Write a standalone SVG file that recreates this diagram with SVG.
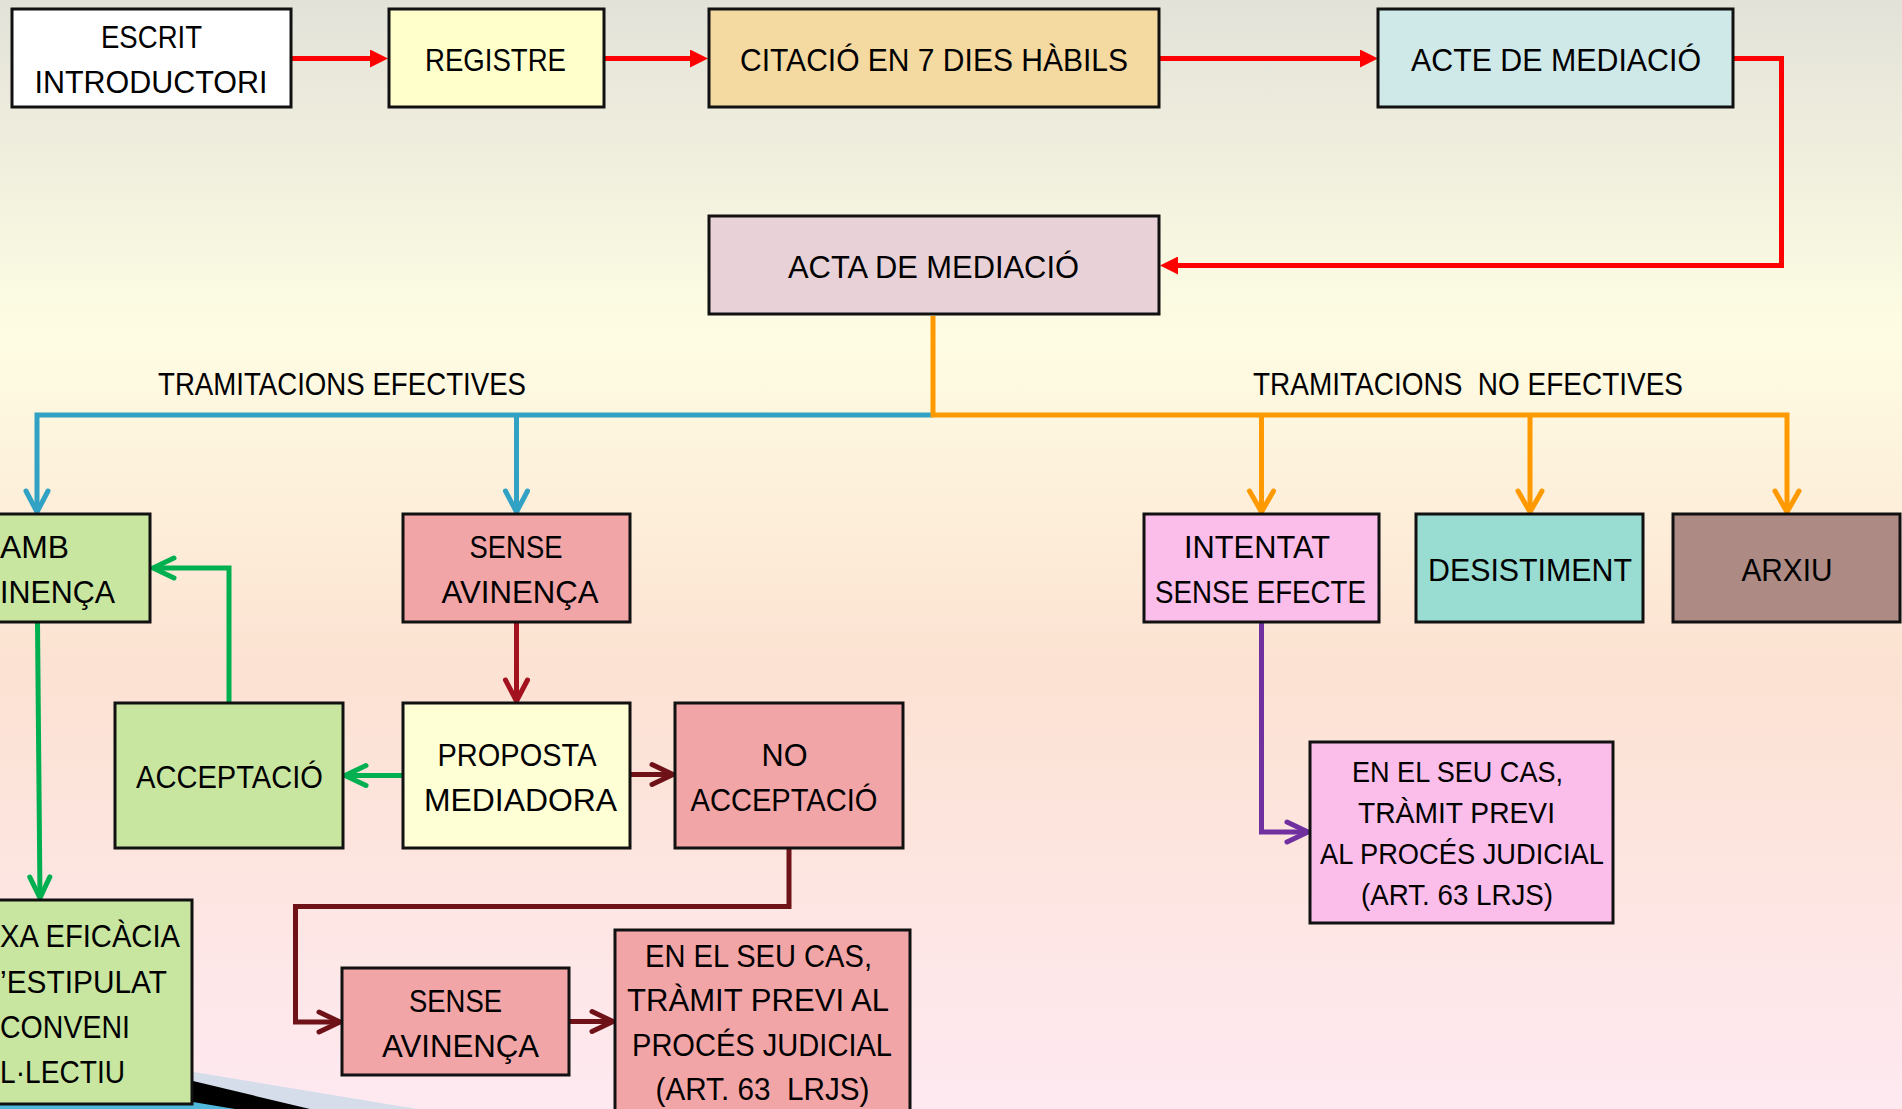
<svg xmlns="http://www.w3.org/2000/svg" width="1902" height="1109" viewBox="0 0 1902 1109">
<style>
text{font-family:"Liberation Sans",Arial,sans-serif;font-size:32px;fill:#000;text-anchor:middle}
.sm{font-size:29px}
.st{text-anchor:start}
.pre{white-space:pre}
.box{stroke:#111;stroke-width:3}
.c{fill:none;stroke-width:5;stroke-linejoin:miter}
</style>
<defs>
<linearGradient id="bg" x1="0" y1="0" x2="0" y2="1">
<stop offset="0" stop-color="#E3E2D9"/>
<stop offset="0.3" stop-color="#FEFDE3"/>
<stop offset="0.6" stop-color="#FCE2D2"/>
<stop offset="1" stop-color="#FEE9F1"/>
</linearGradient>
<marker id="tri" viewBox="0 0 18 18" refX="8" refY="9" markerWidth="18" markerHeight="18" markerUnits="userSpaceOnUse" orient="auto"><path d="M0,0 L18,9 L0,18 z" fill="#FF0000"/></marker>
<marker id="mBlue" viewBox="-4 -4 30 30" refX="21" refY="11" markerWidth="30" markerHeight="30" markerUnits="userSpaceOnUse" orient="auto" overflow="visible"><path d="M0,0 L21,11 L0,22" fill="none" stroke="#31A2C4" stroke-width="5" stroke-linecap="round" stroke-linejoin="round"/></marker>
<marker id="mOrange" viewBox="-4 -4 30 30" refX="21" refY="11" markerWidth="30" markerHeight="30" markerUnits="userSpaceOnUse" orient="auto" overflow="visible"><path d="M0,-1 L21,11 L0,23" fill="none" stroke="#FF9900" stroke-width="5" stroke-linecap="round" stroke-linejoin="round"/></marker>
<marker id="mGreen" viewBox="-4 -4 30 30" refX="21" refY="11" markerWidth="30" markerHeight="30" markerUnits="userSpaceOnUse" orient="auto" overflow="visible"><path d="M0,1 L21,11 L0,21" fill="none" stroke="#00B050" stroke-width="5" stroke-linecap="round" stroke-linejoin="round"/></marker>
<marker id="mDred" viewBox="-4 -4 30 30" refX="21" refY="11" markerWidth="30" markerHeight="30" markerUnits="userSpaceOnUse" orient="auto" overflow="visible"><path d="M0,0 L21,11 L0,22" fill="none" stroke="#A3131F" stroke-width="5" stroke-linecap="round" stroke-linejoin="round"/></marker>
<marker id="mMaroon" viewBox="-4 -4 30 30" refX="21" refY="11" markerWidth="30" markerHeight="30" markerUnits="userSpaceOnUse" orient="auto" overflow="visible"><path d="M0,1 L21,11 L0,21" fill="none" stroke="#6E1218" stroke-width="5" stroke-linecap="round" stroke-linejoin="round"/></marker>
<marker id="mPurple" viewBox="-4 -4 30 30" refX="21" refY="11" markerWidth="30" markerHeight="30" markerUnits="userSpaceOnUse" orient="auto" overflow="visible"><path d="M0,1 L21,11 L0,21" fill="none" stroke="#7030A0" stroke-width="5" stroke-linecap="round" stroke-linejoin="round"/></marker>
</defs>
<rect x="0" y="0" width="1902" height="1109" fill="url(#bg)"/>
<g id="decoration">
<polygon points="0,1040 417,1109 0,1109" fill="#D6DDEA"/>
<polygon points="0,1035 310,1109 0,1109" fill="#000"/>
<polygon points="0,1070 235,1109 0,1109" fill="#4FB8DC"/>
</g>
<g id="labels">
<text class="st" x="158" y="395" textLength="368" lengthAdjust="spacingAndGlyphs">TRAMITACIONS EFECTIVES</text>
<text class="st pre" xml:space="preserve" x="1253" y="395" textLength="430" lengthAdjust="spacingAndGlyphs">TRAMITACIONS  NO EFECTIVES</text>
</g>
<g id="connectors">
<line class="c" stroke="#FF0000" x1="292" y1="58.5" x2="378" y2="58.5" marker-end="url(#tri)"/>
<line class="c" stroke="#FF0000" x1="604" y1="58.5" x2="698" y2="58.5" marker-end="url(#tri)"/>
<line class="c" stroke="#FF0000" x1="1159" y1="58.5" x2="1368" y2="58.5" marker-end="url(#tri)"/>
<path class="c" stroke="#FF0000" d="M1734,58.5 H1781.5 V265.5 H1170" marker-end="url(#tri)"/>
<path class="c" stroke="#31A2C4" d="M933,415 H37 V512" marker-end="url(#mBlue)"/>
<path class="c" stroke="#31A2C4" d="M516.5,415 V512" marker-end="url(#mBlue)"/>
<path class="c" stroke="#FF9900" d="M933,316 V415 H1787 V512" marker-end="url(#mOrange)"/>
<path class="c" stroke="#FF9900" d="M1261.5,415 V512" marker-end="url(#mOrange)"/>
<path class="c" stroke="#FF9900" d="M1530,415 V512" marker-end="url(#mOrange)"/>
<path class="c" stroke="#00B050" d="M37.5,623 L40,898" marker-end="url(#mGreen)"/>
<path class="c" stroke="#00B050" d="M229,702 V568 H153" marker-end="url(#mGreen)"/>
<path class="c" stroke="#00B050" d="M402,775.5 H345" marker-end="url(#mGreen)"/>
<path class="c" stroke="#A3131F" d="M516.5,623 V701" marker-end="url(#mDred)"/>
<path class="c" stroke="#6E1218" d="M630,774.5 H673" marker-end="url(#mMaroon)"/>
<path class="c" stroke="#6E1218" d="M789,849 V906.5 H295.5 V1022 H340" marker-end="url(#mMaroon)"/>
<path class="c" stroke="#6E1218" d="M570,1021.5 H613" marker-end="url(#mMaroon)"/>
<path class="c" stroke="#7030A0" d="M1261.5,623 V832 H1308" marker-end="url(#mPurple)"/>
</g>
<g id="n-escrit"><rect class="box" x="12" y="9" width="279" height="98" fill="#FFFFFF"/>
<text x="151.5" y="48" textLength="101" lengthAdjust="spacingAndGlyphs">ESCRIT</text>
<text x="151" y="93" textLength="233" lengthAdjust="spacingAndGlyphs">INTRODUCTORI</text></g>
<g id="n-registre"><rect class="box" x="389" y="9" width="215" height="98" fill="#FFFFCC"/>
<text x="495.5" y="71" textLength="141" lengthAdjust="spacingAndGlyphs">REGISTRE</text></g>
<g id="n-citacio"><rect class="box" x="709" y="9" width="450" height="98" fill="#F4D9A0"/>
<text x="934" y="71" textLength="388" lengthAdjust="spacingAndGlyphs">CITACIÓ EN 7 DIES HÀBILS</text></g>
<g id="n-acte"><rect class="box" x="1378" y="9" width="355" height="98" fill="#CFE8E8"/>
<text x="1556" y="71" textLength="290" lengthAdjust="spacingAndGlyphs">ACTE DE MEDIACIÓ</text></g>
<g id="n-acta"><rect class="box" x="709" y="216" width="450" height="98" fill="#E8D2D8"/>
<text x="933.5" y="278" textLength="291" lengthAdjust="spacingAndGlyphs">ACTA DE MEDIACIÓ</text></g>
<g id="n-amb"><rect class="box" x="-80" y="514" width="230" height="108" fill="#C8E6A0"/>
<text class="st" x="0" y="558" textLength="69" lengthAdjust="spacingAndGlyphs">AMB</text>
<text class="st" x="0" y="603" textLength="115" lengthAdjust="spacingAndGlyphs">INENÇA</text></g>
<g id="n-sense1"><rect class="box" x="403" y="514" width="227" height="108" fill="#F2A5A7"/>
<text x="516" y="558" textLength="93" lengthAdjust="spacingAndGlyphs">SENSE</text>
<text x="520" y="603" textLength="157" lengthAdjust="spacingAndGlyphs">AVINENÇA</text></g>
<g id="n-intentat"><rect class="box" x="1144" y="514" width="235" height="108" fill="#FBBEEA"/>
<text x="1257" y="558" textLength="146" lengthAdjust="spacingAndGlyphs">INTENTAT</text>
<text x="1260.5" y="603" textLength="211" lengthAdjust="spacingAndGlyphs">SENSE EFECTE</text></g>
<g id="n-desistiment"><rect class="box" x="1416" y="514" width="227" height="108" fill="#98DCD2"/>
<text x="1530" y="581" textLength="204" lengthAdjust="spacingAndGlyphs">DESISTIMENT</text></g>
<g id="n-arxiu"><rect class="box" x="1673" y="514" width="227" height="108" fill="#AD8B84"/>
<text x="1787" y="581" textLength="91" lengthAdjust="spacingAndGlyphs">ARXIU</text></g>
<g id="n-acceptacio"><rect class="box" x="115" y="703" width="228" height="145" fill="#C8E6A0"/>
<text x="229.5" y="788" textLength="187" lengthAdjust="spacingAndGlyphs">ACCEPTACIÓ</text></g>
<g id="n-proposta"><rect class="box" x="403" y="703" width="227" height="145" fill="#FFFFD6"/>
<text x="517" y="766" textLength="159" lengthAdjust="spacingAndGlyphs">PROPOSTA</text>
<text x="520.5" y="811" textLength="193" lengthAdjust="spacingAndGlyphs">MEDIADORA</text></g>
<g id="n-noacceptacio"><rect class="box" x="675" y="703" width="228" height="145" fill="#F2A5A7"/>
<text x="784.5" y="766" textLength="46" lengthAdjust="spacingAndGlyphs">NO</text>
<text x="784" y="811" textLength="187" lengthAdjust="spacingAndGlyphs">ACCEPTACIÓ</text></g>
<g id="n-sense2"><rect class="box" x="342" y="968" width="227" height="107" fill="#F2A5A7"/>
<text x="455.5" y="1011.5" textLength="93" lengthAdjust="spacingAndGlyphs">SENSE</text>
<text x="460.5" y="1056.5" textLength="157" lengthAdjust="spacingAndGlyphs">AVINENÇA</text></g>
<g id="n-tramit2"><rect class="box" x="615" y="930" width="295" height="200" fill="#F2A5A7"/>
<text x="758.5" y="966.5" textLength="227" lengthAdjust="spacingAndGlyphs">EN EL SEU CAS,</text>
<text x="758" y="1011" textLength="262" lengthAdjust="spacingAndGlyphs">TRÀMIT PREVI AL</text>
<text x="762" y="1055.5" textLength="260" lengthAdjust="spacingAndGlyphs">PROCÉS JUDICIAL</text>
<text class="pre" xml:space="preserve" x="762.5" y="1100" textLength="214" lengthAdjust="spacingAndGlyphs">(ART. 63  LRJS)</text></g>
<g id="n-tramit1"><rect class="box" x="1310" y="742" width="303" height="181" fill="#FBBEEA"/>
<text class="sm" x="1457.5" y="781.5" textLength="211" lengthAdjust="spacingAndGlyphs">EN EL SEU CAS,</text>
<text class="sm" x="1456.5" y="822.5" textLength="197" lengthAdjust="spacingAndGlyphs">TRÀMIT PREVI</text>
<text class="sm" x="1462" y="864" textLength="284" lengthAdjust="spacingAndGlyphs">AL PROCÉS JUDICIAL</text>
<text class="sm" x="1457" y="905" textLength="192" lengthAdjust="spacingAndGlyphs">(ART. 63 LRJS)</text></g>
<g id="n-eficacia"><rect class="box" x="-80" y="900" width="272" height="204" fill="#C8E6A0"/>
<text class="st" x="0" y="947" textLength="180" lengthAdjust="spacingAndGlyphs">XA EFICÀCIA</text>
<text class="st" x="0" y="993" textLength="167" lengthAdjust="spacingAndGlyphs">’ESTIPULAT</text>
<text class="st" x="0" y="1038" textLength="130" lengthAdjust="spacingAndGlyphs">CONVENI</text>
<text class="st" x="0" y="1083" textLength="125" lengthAdjust="spacingAndGlyphs">L·LECTIU</text></g>
</svg>
